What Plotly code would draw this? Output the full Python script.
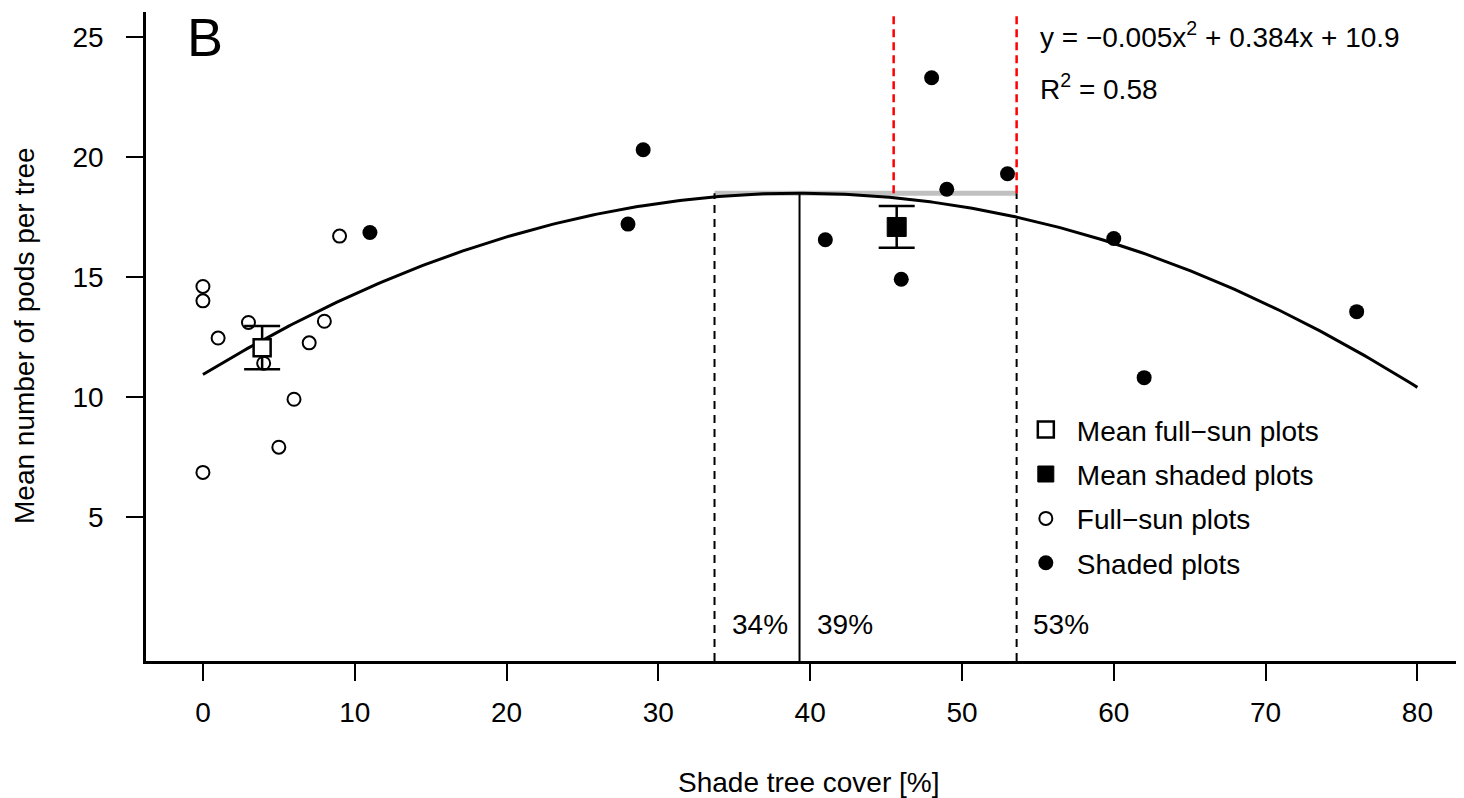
import numpy as np
import plotly.graph_objects as go

# ---------------- data ----------------
fullsun_x = [0, 0, 0, 1, 3, 4, 5, 6, 7, 8, 9]
fullsun_y = [14.6, 14.0, 6.85, 12.45, 13.1, 11.4, 7.9, 9.9, 12.25, 13.15, 16.7]

shaded_x = [11, 28, 29, 41, 46, 48, 49, 53, 60, 62, 76]
shaded_y = [16.85, 17.2, 20.3, 16.55, 14.9, 23.3, 18.65, 19.3, 16.6, 10.8, 13.55]

mean_fullsun_x = [3.9]
mean_fullsun_y = [12.05]
mean_fullsun_err = [0.9]

mean_shaded_x = [45.7]
mean_shaded_y = [17.08]
mean_shaded_err = [0.87]

# quadratic fit (as drawn): y = a x^2 + b x + c
fit_a = -0.00489
fit_b = 0.3845
fit_c = 10.93
fit_x_range = [0, 80]

optimum_x = 39.3
ci_low_x = 33.7
ci_high_x = 53.6
red_lines_x = [45.5, 53.6]

pct_labels = ["34%", "39%", "53%"]
pct_label_x = [36.7, 42.3, 56.5]
pct_label_y = 0.5

x_ticks = [0, 10, 20, 30, 40, 50, 60, 70, 80]
y_ticks = [5, 10, 15, 20, 25]

eq_text = "y = \u22120.005x<sup>2</sup> + 0.384x + 10.9"
r2_text = "R<sup>2</sup> = 0.58"

# ---------------- figure ----------------
FONT = "Liberation Sans, Arial, sans-serif"
FS = 28
Y_MIN, Y_MAX = -1.01, 26.04

def fit(x):
    x = np.asarray(x, dtype=float)
    return fit_a * x**2 + fit_b * x + fit_c

peak_y = float(fit(optimum_x))
curve_x = np.linspace(fit_x_range[0], fit_x_range[1], 300)
curve_y = fit(curve_x)

fig = go.Figure()

fig.add_trace(go.Scatter(x=curve_x, y=curve_y, mode="lines",
                         line=dict(color="black", width=3), showlegend=False,
                         hoverinfo="skip"))

fig.add_trace(go.Scatter(
    x=mean_fullsun_x, y=mean_fullsun_y, mode="markers", name="Mean full\u2212sun plots",
    legendgroup="g1",
    marker=dict(symbol="square", size=17, color="white", line=dict(color="black", width=2.5)),
    error_y=dict(type="data", array=mean_fullsun_err, visible=True, color="black",
                 thickness=2.5, width=18)))

fig.add_trace(go.Scatter(
    x=mean_shaded_x, y=mean_shaded_y, mode="markers", name="Mean shaded plots",
    legendgroup="g2",
    marker=dict(symbol="square", size=19, color="black", line=dict(color="black", width=1)),
    error_y=dict(type="data", array=mean_shaded_err, visible=True, color="black",
                 thickness=2.5, width=18)))

fig.add_trace(go.Scatter(
    x=fullsun_x, y=fullsun_y, mode="markers", name="Full\u2212sun plots",
    legendgroup="g3",
    marker=dict(symbol="circle-open", size=13, color="black", line=dict(color="black", width=2))))

fig.add_trace(go.Scatter(
    x=shaded_x, y=shaded_y, mode="markers", name="Shaded plots",
    legendgroup="g4",
    marker=dict(symbol="circle", size=15, color="black")))

# reference lines (shapes below traces)
shapes = []
shapes.append(dict(type="line", xref="x", yref="y", x0=ci_low_x, x1=ci_high_x,
                   y0=peak_y, y1=peak_y, line=dict(color="#c0c0c0", width=5), layer="below"))
for xv in [ci_low_x, ci_high_x]:
    shapes.append(dict(type="line", xref="x", yref="y", x0=xv, x1=xv,
                       y0=Y_MIN, y1=peak_y, line=dict(color="black", width=2, dash="8px,6px"),
                       layer="below"))
shapes.append(dict(type="line", xref="x", yref="y", x0=optimum_x, x1=optimum_x,
                   y0=Y_MIN, y1=peak_y, line=dict(color="black", width=2), layer="below"))
for xv in red_lines_x:
    shapes.append(dict(type="line", xref="x", yref="y", x0=xv, x1=xv,
                       y0=peak_y, y1=Y_MAX, line=dict(color="red", width=2.5, dash="8px,5px"),
                       layer="below"))

annotations = []
for t, xv in zip(pct_labels, pct_label_x):
    annotations.append(dict(x=xv, y=pct_label_y, xref="x", yref="y", text=t, showarrow=False,
                            font=dict(size=FS, color="black", family=FONT),
                            xanchor="center", yanchor="middle"))
annotations.append(dict(x=55.0, y=25.1, xref="x", yref="y", text=eq_text, showarrow=False,
                        font=dict(size=FS, color="black", family=FONT), xanchor="left",
                        yanchor="middle"))
annotations.append(dict(x=55.0, y=22.9, xref="x", yref="y", text=r2_text, showarrow=False,
                        font=dict(size=FS, color="black", family=FONT), xanchor="left",
                        yanchor="middle"))
annotations.append(dict(x=-1.2, y=25.0, xref="x", yref="y", text="B", showarrow=False,
                        font=dict(size=54, color="black", family=FONT), xanchor="left",
                        yanchor="middle"))
annotations.append(dict(x=0.503, y=-0.1865, xref="paper", yref="paper",
                        text="Shade tree cover [%]", showarrow=False,
                        font=dict(size=FS, color="black", family=FONT),
                        xanchor="center", yanchor="middle"))
annotations.append(dict(x=-0.0918, y=0.5008, xref="paper", yref="paper",
                        text="Mean number of pods per tree", showarrow=False, textangle=-90,
                        font=dict(size=FS, color="black", family=FONT),
                        xanchor="center", yanchor="middle"))

# page body has an 8px margin: size/margins compensate so the plot lands where intended
fig.update_layout(
    width=1456, height=790,
    margin=dict(l=138, r=0, t=4, b=137, pad=0),
    paper_bgcolor="white", plot_bgcolor="white",
    font=dict(family=FONT, size=FS, color="black"),
    shapes=shapes, annotations=annotations,
    showlegend=True,
    legend=dict(x=0.6592, y=0.3946, xanchor="left", yanchor="top",
                bgcolor="rgba(0,0,0,0)", borderwidth=0,
                font=dict(size=FS, family=FONT, color="black"),
                traceorder="grouped", tracegroupgap=5, itemwidth=52),
    xaxis=dict(range=[-3.75, 83.07], showgrid=False, zeroline=False,
               showline=True, linecolor="black", linewidth=2.5, mirror=False,
               ticks="outside", ticklen=17, tickwidth=2, tickcolor="black",
               tickmode="array", tickvals=x_ticks, ticktext=[str(v) for v in x_ticks],
               tickfont=dict(size=FS, family=FONT, color="black"),
               ticklabelstandoff=8),
    yaxis=dict(range=[Y_MIN, Y_MAX], showgrid=False, zeroline=False,
               showline=True, linecolor="black", linewidth=2.5, mirror=False,
               ticks="outside", ticklen=17, tickwidth=2, tickcolor="black",
               tickmode="array", tickvals=y_ticks, ticktext=[str(v) for v in y_ticks],
               tickfont=dict(size=FS, family=FONT, color="black"),
               ticklabelstandoff=17),
)

fig.write_html("out.html")
